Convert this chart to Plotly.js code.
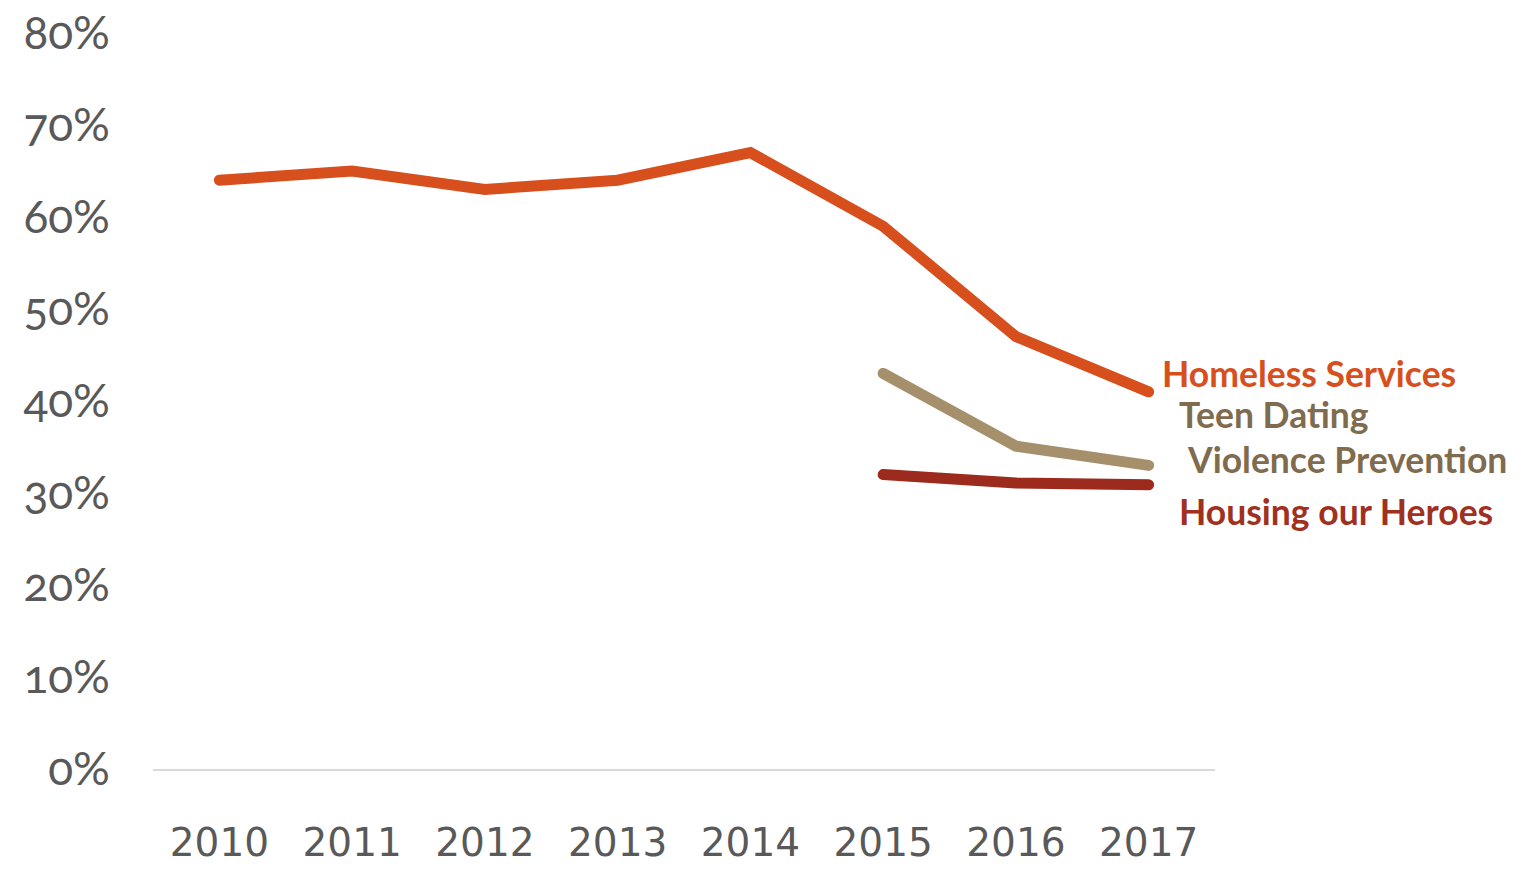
<!DOCTYPE html>
<html><head><meta charset="utf-8">
<script src="https://cdn.plot.ly/plotly-3.0.1.min.js"></script>
<style>
html,body{margin:0;padding:0;background:#fff;}
#chart{width:1537px;height:872px;}
.yaxislayer-above text, .xaxislayer-above text {font-variant-numeric: oldstyle-nums; font-feature-settings: "onum" 1;}
.scatterlayer .js-line {stroke-linecap: round;}
</style>
</head><body>
<div id="chart"></div>
<script>
const years = ['2010','2011','2012','2013','2014','2015','2016','2017'];
const homeless = [0.64, 0.65, 0.63, 0.64, 0.67, 0.59, 0.47, 0.41];
const teenDating = [null, null, null, null, null, 0.43, 0.351, 0.33];
const housingHeroes = [null, null, null, null, null, 0.32, 0.311, 0.309];
const seriesNames = ['Homeless Services', 'Teen Dating<br> Violence Prevention', 'Housing our Heroes'];
const yTicks = [0, 0.1, 0.2, 0.3, 0.4, 0.5, 0.6, 0.7, 0.8];
const yTickText = ['0%','10%','20%','30%','40%','50%','60%','70%','80%'];

const lineColors = ['#D64F1C', '#A68F6B', '#9C2B1E'];
const textColors = ['#D64F1C', '#7F6B4E', '#A0301F'];

const traces = [homeless, teenDating, housingHeroes].map((vals, i) => ({
  x: years, y: vals, type: 'scatter', mode: 'lines', name: seriesNames[i],
  line: {color: lineColors[i], width: 11}, connectgaps: false, hoverinfo: 'skip'
}));

const labelFont = (c) => ({family: 'Lato, "Open Sans", sans-serif', size: 35.5, color: c, weight: 'bold'});
const annotations = [
  {text: '<b>Homeless Services</b>', xref: 'paper', yref: 'y', x: 0.948, y: 0.43, xanchor: 'left', yanchor: 'middle', showarrow: false, font: labelFont(textColors[0])},
  {text: '<b>Teen Dating</b>', xref: 'paper', yref: 'y', x: 0.964, y: 0.385, xanchor: 'left', yanchor: 'middle', showarrow: false, font: labelFont(textColors[1])},
  {text: '<b>Violence Prevention</b>', xref: 'paper', yref: 'y', x: 0.972, y: 0.336, xanchor: 'left', yanchor: 'middle', showarrow: false, font: labelFont(textColors[1])},
  {text: '<b>Housing our Heroes</b>', xref: 'paper', yref: 'y', x: 0.964, y: 0.28, xanchor: 'left', yanchor: 'middle', showarrow: false, font: labelFont(textColors[2])}
];

const layout = {
  width: 1537, height: 872,
  margin: {l: 153, r: 322, t: 33, b: 103},
  paper_bgcolor: '#ffffff', plot_bgcolor: '#ffffff',
  showlegend: false,
  xaxis: {
    type: 'category', range: [-0.5, 7.5], showgrid: false, zeroline: false,
    showline: true, linecolor: '#D9D9D9', linewidth: 2, ticks: '',
    ticklabelstandoff: 38,
    tickfont: {family: '"DejaVu Sans", sans-serif', size: 39, color: '#595959'}
  },
  yaxis: {
    range: [0, 0.8], showgrid: false, zeroline: false, showline: false, ticks: '',
    tickvals: yTicks, ticktext: yTickText, ticklabelstandoff: 42,
    tickfont: {family: 'Lato, sans-serif', size: 46, color: '#595959'}
  },
  annotations: annotations
};

Plotly.newPlot('chart', traces, layout, {displayModeBar: false, staticPlot: true});
</script>
</body></html>
